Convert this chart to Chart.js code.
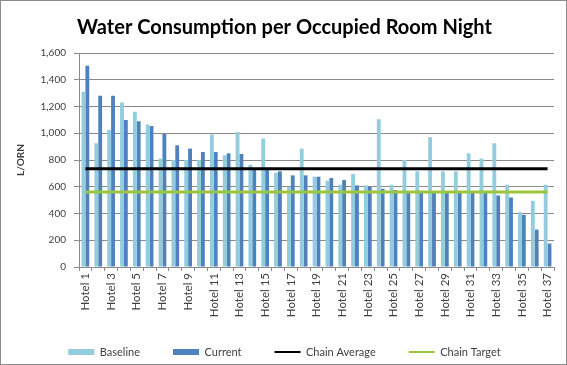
<!DOCTYPE html>
<html>
<head>
<meta charset="utf-8">
<script src="https://cdn.jsdelivr.net/npm/chart.js@4/dist/chart.umd.min.js"></script>
<style>
  html, body { margin: 0; padding: 0; background: #fff; }
  #wrap { width: 567px; height: 365px; box-sizing: border-box; border: 1px solid #8c8c8c; background: #fff; }
  canvas { display: block; }
</style>
</head>
<body>
<div id="wrap"><canvas id="c" width="565" height="363"></canvas></div>
<script>
const hotels = ["Hotel 1","Hotel 2","Hotel 3","Hotel 4","Hotel 5","Hotel 6","Hotel 7","Hotel 8","Hotel 9","Hotel 10",
  "Hotel 11","Hotel 12","Hotel 13","Hotel 14","Hotel 15","Hotel 16","Hotel 17","Hotel 18","Hotel 19","Hotel 20",
  "Hotel 21","Hotel 22","Hotel 23","Hotel 24","Hotel 25","Hotel 26","Hotel 27","Hotel 28","Hotel 29","Hotel 30",
  "Hotel 31","Hotel 32","Hotel 33","Hotel 34","Hotel 35","Hotel 36","Hotel 37"];
const baseline = [1310, 925, 1025, 1230, 1160, 1065, 810, 800, 800, 800,
  990, 835, 1010, 765, 960, 705, 600, 885, 675, 645,
  615, 695, 610, 1105, 615, 800, 715, 970, 715, 715,
  850, 810, 925, 615, 410, 495, 615];
const current = [1505, 1280, 1280, 1100, 1090, 1055, 995, 910, 885, 860,
  860, 850, 845, 725, 725, 715, 685, 685, 675, 665,
  650, 610, 600, 585, 575, 555, 555, 555, 555, 555,
  555, 555, 535, 520, 390, 280, 175];
const chainAverage = 735;
const chainTarget = 560;
const yTicks = [0, 200, 400, 600, 800, 1000, 1200, 1400, 1600];

const FONT = "Lato, 'Liberation Sans', sans-serif";
const TXT = "#404040";
const GRID = "#8a8a8a";
const LEGEND_FONT = 11;
const LEGEND_PAD = 33;

// moves the legend row to its place below the rotated category labels
const legendPlace = {
  id: "legendPlace",
  afterLayout(chart) {
    const lg = chart.legend;
    const shift = 351 - (lg.top + LEGEND_PAD + LEGEND_FONT / 2);
    lg.top += shift;
    lg.bottom = chart.height;
    lg.height = lg.bottom - lg.top;
  }
};

new Chart(document.getElementById("c"), {
  data: {
    labels: hotels,
    datasets: [
      { type: "bar", label: "Baseline", data: baseline, backgroundColor: "#93CDDD", order: 1,
        categoryPercentage: 0.6, barPercentage: 1.0 },
      { type: "bar", label: "Current", data: current, backgroundColor: "#4F81BD", order: 1,
        categoryPercentage: 0.6, barPercentage: 1.0 },
      { type: "line", label: "Chain Average", data: hotels.map(() => chainAverage), borderColor: "#000000",
        backgroundColor: "#000000", borderWidth: 3, pointRadius: 0, order: 0 },
      { type: "line", label: "Chain Target", data: hotels.map(() => chainTarget), borderColor: "#9BC53D",
        backgroundColor: "#9BC53D", borderWidth: 3, pointRadius: 0, order: 0 }
    ]
  },
  plugins: [legendPlace],
  options: {
    responsive: false,
    animation: false,
    layout: { padding: { left: 14, right: 12, top: 0, bottom: 0 } },
    plugins: {
      tooltip: { enabled: false },
      title: {
        display: true,
        text: "Water Consumption per Occupied Room Night",
        color: "#000",
        font: { family: FONT, size: 20, weight: "bold" },
        padding: { top: 15, bottom: 13 }
      },
      legend: {
        position: "bottom",
        maxHeight: 39,
        labels: {
          color: TXT,
          font: { family: FONT, size: LEGEND_FONT },
          usePointStyle: true,
          pointStyleWidth: 26,
          boxHeight: 6,
          padding: LEGEND_PAD,
          generateLabels: (chart) => chart.data.datasets.map((ds, i) => ({
            text: ds.label,
            fillStyle: ds.type === "bar" ? ds.backgroundColor : ds.borderColor,
            strokeStyle: ds.type === "bar" ? ds.backgroundColor : ds.borderColor,
            lineWidth: ds.type === "bar" ? 0 : 2,
            pointStyle: ds.type === "bar" ? "rect" : "line",
            fontColor: TXT,
            hidden: false,
            datasetIndex: i
          }))
        }
      }
    },
    scales: {
      x: {
        offset: true,
        grid: { offset: true, drawOnChartArea: false, drawTicks: true, tickLength: 4, color: GRID },
        border: { display: true, color: GRID },
        ticks: {
          autoSkip: false,
          minRotation: 90,
          maxRotation: 90,
          color: TXT,
          font: { family: FONT, size: 11.5 },
          padding: 2,
          callback: function (v, i) { return i % 2 === 0 ? this.getLabelForValue(v) : ""; }
        },
        afterFit: (s) => { s.height = 58; }
      },
      y: {
        min: 0,
        max: 1600,
        afterBuildTicks: (s) => { s.ticks = yTicks.map(v => ({ value: v })); },
        grid: { color: GRID, tickLength: 5, drawTicks: true },
        border: { display: true, color: GRID },
        ticks: {
          color: TXT,
          font: { family: FONT, size: 10 },
          padding: 8,
          callback: (v) => v.toLocaleString("en-US")
        },
        title: {
          display: true,
          text: "L/ORN",
          color: TXT,
          font: { family: FONT, size: 10, weight: "bold" },
          padding: { top: 0, bottom: 4 }
        },
        afterFit: (s) => { s.width = 64; }
      }
    }
  }
});
</script>
</body>
</html>
